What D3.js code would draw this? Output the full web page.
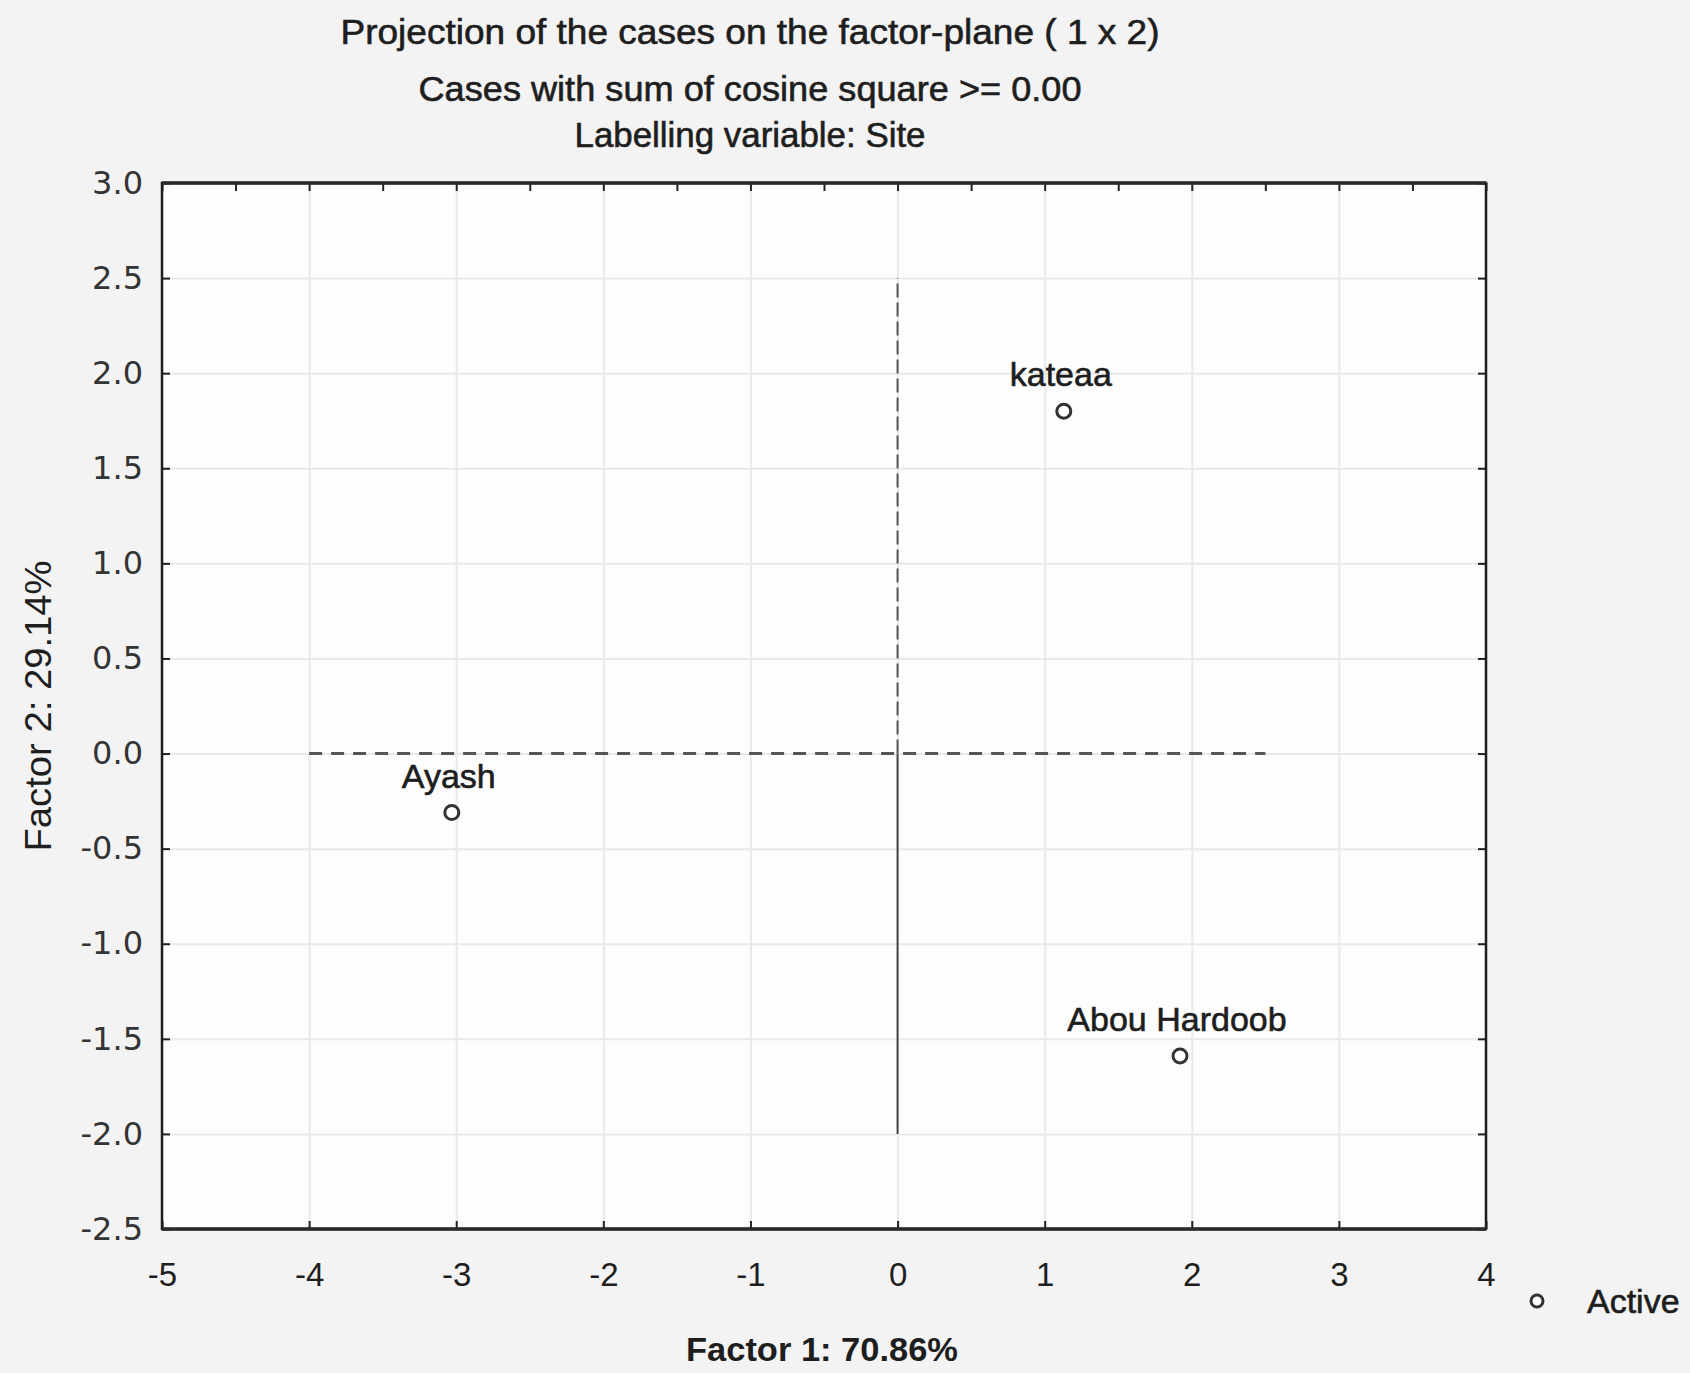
<!DOCTYPE html>
<html>
<head>
<meta charset="utf-8">
<script src="https://cdn.jsdelivr.net/npm/d3@7"></script>
<style>
    body { margin: 0; background: #f3f3f3; }
    text { font-family: "Liberation Sans", Arial, sans-serif; fill: #1e1e1e; }
    .ylab text { font-family: "DejaVu Sans", sans-serif; fill: #333; }
    .heavy { stroke: #1e1e1e; stroke-width: 0.6; }
</style>
</head>
<body>
<div id="chart"></div>
<script>
// chart data
const sites = ['kateaa', 'Ayash', 'Abou Hardoob'];
const factor1 = [1.13, -3.03, 1.92];
const factor2 = [1.80, -0.31, -1.59];

const xTicks = [-5, -4, -3, -2, -1, 0, 1, 2, 3, 4];
const yTicks = [3.0, 2.5, 2.0, 1.5, 1.0, 0.5, 0.0, -0.5, -1.0, -1.5, -2.0, -2.5];

const titleLines = [
    'Projection of the cases on the factor-plane (  1 x   2)',
    'Cases with sum of cosine square >=  0.00',
    'Labelling variable: Site'
];
const xTitle = 'Factor 1: 70.86%';
const yTitle = 'Factor 2: 29.14%';
const legendLabel = 'Active';

// origin lines drawn by statistica
const zeroLineX = [-4, 2.5];
const zeroLineYDashed = [0, 2.5];
const zeroLineYSolid = [-2, 0];

const width = 1690, height = 1373;
const plot = {left: 162, right: 1486, top: 183, bottom: 1229};

const svg = d3.select('#chart').append('svg')
    .attr('width', width)
    .attr('height', height);

svg.append('rect')
    .attr('width', width).attr('height', height)
    .attr('fill', '#f3f3f3');

const x = d3.scaleLinear().domain([-5, 4]).range([plot.left, plot.right]);
const y = d3.scaleLinear().domain([-2.5, 3]).range([plot.bottom, plot.top]);
const pw = plot.right - plot.left, ph = plot.bottom - plot.top;

svg.append('rect')
    .attr('x', plot.left).attr('y', plot.top)
    .attr('width', pw).attr('height', ph)
    .attr('fill', '#fdfdfd');

// grid
svg.append('g')
    .attr('transform', `translate(0,${plot.bottom})`)
    .call(d3.axisBottom(x).tickValues(xTicks).tickSize(-ph).tickFormat(''))
    .call(g => g.select('.domain').remove())
    .selectAll('line').attr('stroke', '#e9e9e9').attr('stroke-width', 2);
svg.append('g')
    .attr('transform', `translate(${plot.left},0)`)
    .call(d3.axisLeft(y).tickValues(yTicks).tickSize(-pw).tickFormat(''))
    .call(g => g.select('.domain').remove())
    .selectAll('line').attr('stroke', '#e9e9e9').attr('stroke-width', 2);

// axes with inward ticks
const halfX = d3.range(-5, 4.01, 0.5);
svg.append('g')
    .attr('transform', `translate(0,${plot.bottom})`)
    .call(d3.axisBottom(x).tickValues(xTicks).tickSize(-8).tickPadding(34).tickFormat(d3.format('d')))
    .call(g => g.select('.domain').remove())
    .call(g => g.selectAll('line').attr('stroke', '#222').attr('stroke-width', 2))
    .call(g => g.selectAll('text').attr('font-size', 33).attr('fill', '#222')
        .text(d => d < 0 ? '-' + Math.abs(d) : d));
svg.append('g')
    .attr('transform', `translate(0,${plot.top})`)
    .call(d3.axisTop(x).tickValues(halfX).tickSize(-8).tickFormat(''))
    .call(g => g.select('.domain').remove())
    .selectAll('line').attr('stroke', '#222').attr('stroke-width', 2);
svg.append('g')
    .classed('ylab', true)
    .attr('transform', `translate(${plot.left},0)`)
    .call(d3.axisLeft(y).tickValues(yTicks).tickSize(-8).tickPadding(19).tickFormat(d3.format('.1f')))
    .call(g => g.select('.domain').remove())
    .call(g => g.selectAll('line').attr('stroke', '#222').attr('stroke-width', 2))
    .call(g => g.selectAll('text').attr('font-size', 32)
        .text(d => (d < 0 ? '-' : '') + Math.abs(d).toFixed(1)));
svg.append('g')
    .attr('transform', `translate(${plot.right},0)`)
    .call(d3.axisRight(y).tickValues(yTicks).tickSize(-8).tickFormat(''))
    .call(g => g.select('.domain').remove())
    .selectAll('line').attr('stroke', '#222').attr('stroke-width', 2);

// frame, top and bottom edges a little heavier
svg.append('rect')
    .attr('x', plot.left).attr('y', plot.top)
    .attr('width', pw).attr('height', ph)
    .attr('fill', 'none')
    .attr('stroke', '#1e1e1e')
    .attr('stroke-width', 2.5);
[plot.top, plot.bottom].forEach(yy => svg.append('line')
    .attr('x1', plot.left).attr('x2', plot.right)
    .attr('y1', yy).attr('y2', yy)
    .attr('stroke', '#2a2a2a').attr('stroke-width', 3.5));

// origin lines
svg.append('line')
    .attr('x1', x(zeroLineX[0])).attr('x2', x(zeroLineX[1]))
    .attr('y1', y(0)).attr('y2', y(0))
    .attr('stroke', '#555').attr('stroke-width', 3)
    .attr('stroke-dasharray', '13,9');
svg.append('line')
    .attr('x1', x(0)).attr('x2', x(0))
    .attr('y1', y(zeroLineYDashed[0])).attr('y2', y(zeroLineYDashed[1]))
    .attr('stroke', '#555').attr('stroke-width', 2)
    .attr('stroke-dasharray', '14,5');
svg.append('line')
    .attr('x1', x(0)).attr('x2', x(0))
    .attr('y1', y(zeroLineYSolid[0])).attr('y2', y(zeroLineYSolid[1]))
    .attr('stroke', '#444').attr('stroke-width', 2);

// points and labels
const cases = sites.map((s, i) => ({site: s, f1: factor1[i], f2: factor2[i]}));
const pts = svg.append('g').classed('points', true);
pts.selectAll('circle.point')
    .data(cases)
    .join('circle')
    .classed('point', true)
    .attr('cx', d => x(d.f1))
    .attr('cy', d => y(d.f2))
    .attr('r', 7)
    .attr('fill', 'white')
    .attr('stroke', '#333')
    .attr('stroke-width', 3);
pts.selectAll('text.label')
    .data(cases)
    .join('text')
    .classed('label heavy', true)
    .attr('x', d => x(d.f1) - 3)
    .attr('y', d => y(d.f2) - 25)
    .attr('text-anchor', 'middle')
    .attr('font-size', 34)
    .text(d => d.site);

// titles
const titleY = [44, 101, 147];
const titleW = [819, 663, 351];
svg.selectAll('text.title')
    .data(titleLines)
    .join('text')
    .classed('title heavy', true)
    .attr('x', 750)
    .attr('y', (d, i) => titleY[i])
    .attr('text-anchor', 'middle')
    .attr('font-size', 35)
    .attr('textLength', (d, i) => titleW[i])
    .attr('lengthAdjust', 'spacingAndGlyphs')
    .text(d => d);

svg.append('text')
    .attr('x', 822).attr('y', 1361)
    .attr('text-anchor', 'middle')
    .attr('font-size', 33)
    .attr('font-weight', 'bold')
    .attr('textLength', 272)
    .attr('lengthAdjust', 'spacingAndGlyphs')
    .text(xTitle);

svg.append('text')
    .attr('transform', `translate(51,${(plot.top + plot.bottom) / 2}) rotate(-90)`)
    .attr('text-anchor', 'middle')
    .attr('font-size', 36)
    .attr('fill', '#333')
    .attr('textLength', 291)
    .attr('lengthAdjust', 'spacingAndGlyphs')
    .text(yTitle);

// legend
svg.append('circle')
    .attr('cx', 1537).attr('cy', 1301)
    .attr('r', 6)
    .attr('fill', 'white')
    .attr('stroke', '#333')
    .attr('stroke-width', 3);
svg.append('text')
    .classed('heavy', true)
    .attr('x', 1587).attr('y', 1313)
    .attr('font-size', 34)
    .text(legendLabel);
</script>
</body>
</html>
